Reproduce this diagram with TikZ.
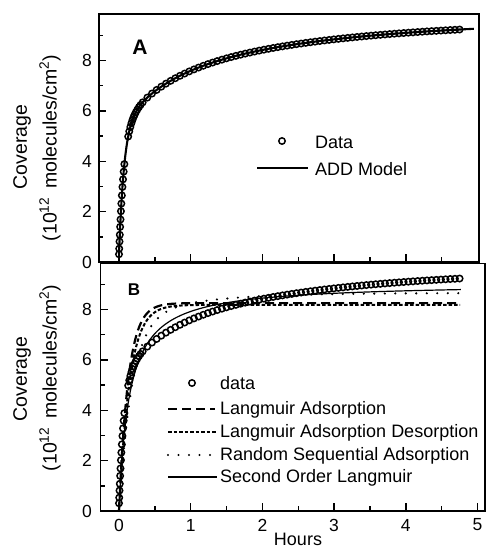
\documentclass[tikz,border=0pt]{standalone}
\usepackage{fontspec}
\setmainfont{Liberation Sans}
\begin{document}
\begin{tikzpicture}[x=1pt,y=-1pt,
  declare function={
    Ex(\q)=exp(max(-9,\q));
    px(\tm)=119+71.7*\tm;
    pyA(\cv)=262-25.2*\cv;
    pyB(\cv)=511-25.2*\cv;
    fA(\tm)=5.3*(1-Ex(-(\tm+0.004)/0.07))+1.8*(1-Ex(-(\tm+0.004)/0.6))+2.5*(1-Ex(-(\tm+0.004)/2.5));
    fLA(\tm)=8.25*(1-Ex(-\tm/0.13));
    fLAD(\tm)=8.18*(1-Ex(-\tm/0.15));
    fRSA(\tm)=7.5*(1-Ex(-\tm/0.18))+1.15*(1-Ex(-\tm/0.9));
    fSO(\tm)=9.05*7*\tm/(1+7*\tm);
  },
  frame/.style={line width=1.9pt},
  tickmark/.style={line width=1.4pt},
  datamark/.style={line width=1.5pt},
  model/.style={line width=2.1pt},
  lastyle/.style={line width=2.2pt, dash pattern=on 9pt off 5pt},
  ladstyle/.style={line width=2pt, dash pattern=on 3.5pt off 2pt},
  rsastyle/.style={line width=2.4pt, line cap=round, dash pattern=on 0pt off 10.5pt},
  sostyle/.style={line width=1.2pt},
  ticklab/.style={font=\fontsize{17.5}{20}\selectfont, inner sep=0pt},
  legtext/.style={font=\fontsize{18}{21}\selectfont, inner sep=0pt, anchor=west},
  axtitle/.style={font=\fontsize{19.5}{23}\selectfont, inner sep=0pt, rotate=90},
  panlab/.style={font=\bfseries, inner sep=0pt}
]
\useasboundingbox (0,0) rectangle (487,550);

% ---------------- Panel A ----------------
\draw[model] plot[domain=0:2.225,samples=160] ({px(\x*\x)},{pyA(fA(\x*\x))});
\foreach \tm in {0,0.003,0.007,0.011,0.016,0.021,0.027,0.033,0.04,0.048,0.056,0.065,0.075,
                 0.128,0.143,0.158,0.173,0.188,0.203,0.218,0.235,0.255,0.278,0.3}
  \draw[datamark] ({px(\tm)},{pyA(fA(\tm))}) circle[radius=3.2pt];
\foreach \tm in {0.33,0.395,...,4.76}
  \draw[datamark] ({px(\tm)},{pyA(fA(\tm))}) circle[radius=3.2pt];

\draw[frame] (99,14) rectangle (479,262);
\foreach \cv in {2,4,6,8} \draw[tickmark] (99,{pyA(\cv)}) -- ++(7,0);
\foreach \cv in {1,3,5,7,9} \draw[tickmark] (99,{pyA(\cv)}) -- ++(4,0);
\foreach \tm in {0,1,2,3,4} \draw[tickmark] ({px(\tm)},262) -- ++(0,-8);
\foreach \tm in {0.5,1.5,2.5,3.5,4.5} \draw[tickmark] ({px(\tm)},262) -- ++(0,-5);
\foreach \cv in {0,2,4,6,8}
  \node[ticklab, anchor=east] (ya\cv) at (92,{pyA(\cv)}) {\cv};

\node[panlab, font=\fontsize{21}{24}\selectfont\bfseries] (labA) at (140,47) {A};
\node[axtitle] (covA) at (22,147) {Coverage};
\node[axtitle] (unitA) at (50,148) {(10\textsuperscript{12}\hspace{0.45em}molecules/cm\textsuperscript{2})};

\draw[datamark] (282,141) circle[radius=3.2pt];
\node[legtext] (legAdata) at (315,142) {Data};
\draw[model] (257,168) -- (308,168);
\node[legtext] (legAmodel) at (315,169) {ADD Model};

% ---------------- Panel B ----------------
\draw[lastyle] plot[domain=0:2.182,samples=160] ({px(\x*\x)},{pyB(fLA(\x*\x))});
\draw[ladstyle] plot[domain=0:2.182,samples=160] ({px(\x*\x)},{pyB(fLAD(\x*\x))});
\draw[rsastyle] plot[domain=0:2.182,samples=160] ({px(\x*\x)},{pyB(fRSA(\x*\x))});
\draw[sostyle] plot[domain=0:2.185,samples=160] ({px(\x*\x)},{pyB(fSO(\x*\x))});
\foreach \tm in {0,0.003,0.007,0.011,0.016,0.021,0.027,0.033,0.04,0.048,0.056,0.065,0.075,
                 0.128,0.143,0.158,0.173,0.188,0.203,0.218,0.235,0.255,0.278,0.3}
  \draw[datamark] ({px(\tm)},{pyB(fA(\tm))}) circle[radius=3.2pt];
\foreach \tm in {0.33,0.395,...,4.76}
  \draw[datamark] ({px(\tm)},{pyB(fA(\tm))}) circle[radius=3.2pt];

\draw[frame] (100.5,263.5) rectangle (485,511);
\foreach \cv in {2,4,6,8} \draw[tickmark] (100.5,{pyB(\cv)}) -- ++(7,0);
\foreach \cv in {1,3,5,7,9} \draw[tickmark] (100.5,{pyB(\cv)}) -- ++(4,0);
\foreach \tm in {0,1,2,3,4,5} \draw[tickmark] ({px(\tm)},511) -- ++(0,-8);
\foreach \tm in {0.5,1.5,2.5,3.5,4.5} \draw[tickmark] ({px(\tm)},511) -- ++(0,-5);
\foreach \cv in {0,2,4,6,8}
  \node[ticklab, anchor=east] (yb\cv) at (92,{pyB(\cv)}) {\cv};
\foreach \tm in {0,1,2,3,4,5}
  \node[ticklab] (xb\tm) at ({px(\tm)},525) {\tm};
\node[font=\fontsize{18}{21}\selectfont, inner sep=0pt] (hours) at (298,539.5) {Hours};

\node[panlab, font=\fontsize{17}{20}\selectfont\bfseries] (labB) at (134,290) {B};
\node[axtitle] (covB) at (22,379) {Coverage};
\node[axtitle] (unitB) at (50,378) {(10\textsuperscript{12}\hspace{0.45em}molecules/cm\textsuperscript{2})};

\draw[datamark] (192,383) circle[radius=3.2pt];
\node[legtext] (legBdata) at (220,383) {data};
\draw[lastyle] (168,409) -- (215,409);
\node[legtext] (legBla) at (220,410) {Langmuir Adsorption};
\draw[ladstyle] (168,432) -- (217,432);
\node[legtext] (legBlad) at (220,433) {Langmuir Adsorption Desorption};
\draw[rsastyle] (168,455) -- (216,455);
\node[legtext] (legBrsa) at (220,456) {Random Sequential Adsorption};
\draw[sostyle] (168,477) -- (217,477);
\node[legtext] (legBso) at (220,478) {Second Order Langmuir};
\end{tikzpicture}
\end{document}
